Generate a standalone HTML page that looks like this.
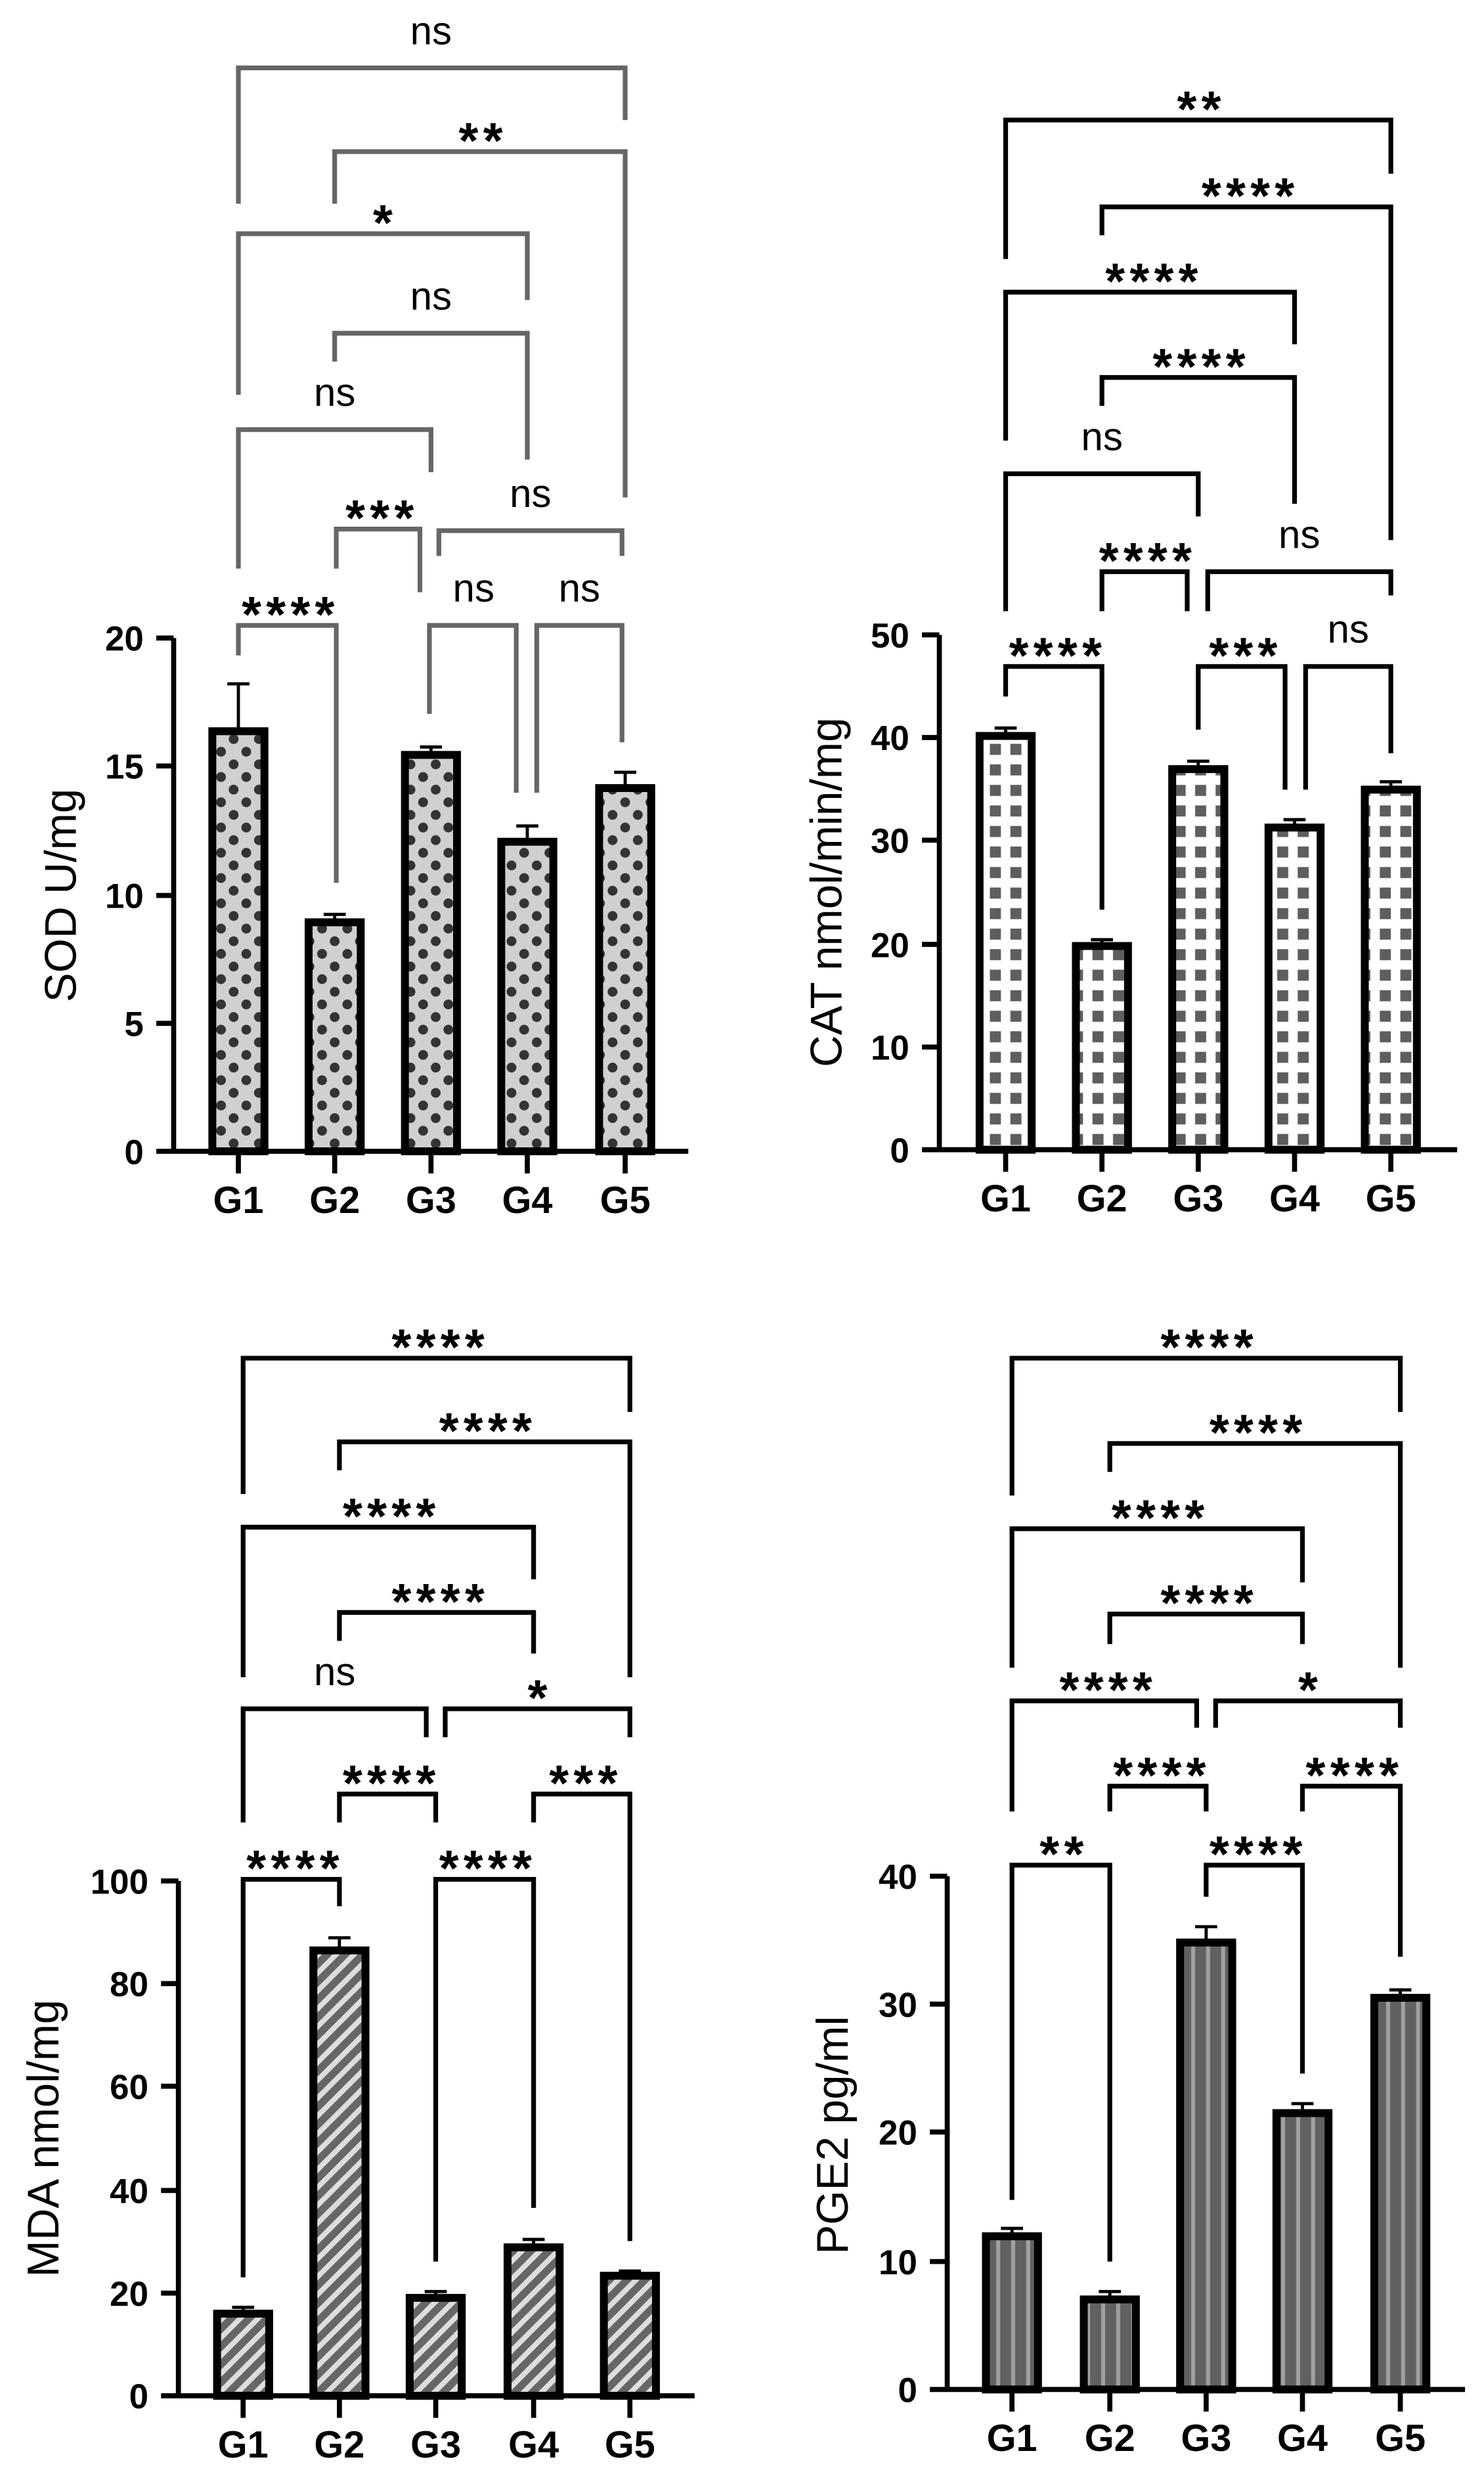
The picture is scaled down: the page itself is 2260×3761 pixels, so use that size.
<!DOCTYPE html>
<html><head><meta charset="utf-8"><style>
html,body{margin:0;padding:0;background:#fff;}
svg{display:block;}
text{font-family:"Liberation Sans",Arial,sans-serif;}
.tk{font-size:22px;font-weight:bold;text-anchor:end;}
.gl{font-size:24px;font-weight:bold;text-anchor:middle;}
.yl{font-size:28px;text-anchor:middle;}
.st{font-size:32px;font-weight:bold;text-anchor:middle;letter-spacing:3px;}
.ns{font-size:25px;text-anchor:middle;}
.bk{fill:none;stroke:#000;stroke-width:3;}
.bg{fill:none;stroke:#666;stroke-width:3;}
.ax{stroke:#000;stroke-width:3.2;fill:none;}
.eb{stroke:#000;stroke-width:2;fill:none;}
</style></head><body>
<svg width="2260" height="3761" viewBox="0 0 940 1564" preserveAspectRatio="none" xmlns="http://www.w3.org/2000/svg">
<defs>
<pattern id="pd" width="16" height="16" patternUnits="userSpaceOnUse">
<rect width="16" height="16" fill="#d0d0d0"/>
<circle cx="4" cy="4" r="3.1" fill="#333"/><circle cx="12" cy="12" r="3.1" fill="#333"/>
</pattern>
<pattern id="pc" width="13" height="13" patternUnits="userSpaceOnUse">
<rect width="13" height="13" fill="#fff"/>
<rect x="3" y="3" width="7" height="7" fill="#5e5e5e"/>
</pattern>
<pattern id="ps" width="8" height="8" patternUnits="userSpaceOnUse" patternTransform="rotate(45)">
<rect width="8" height="8" fill="#666"/>
<rect width="3.3" height="8" fill="#ddd"/>
</pattern>
<pattern id="pv" width="9.5" height="10" patternUnits="userSpaceOnUse">
<rect width="9.5" height="10" fill="#616161"/>
<rect x="4" width="2.5" height="10" fill="#a0a0a0"/>
</pattern>
</defs>

<!-- ===== SOD ===== -->
<g>
<path class="bg" d="M151 129 V43 H396 V76"/><text class="ns" x="273" y="28">ns</text>
<path class="bg" d="M212 129 V96 H396 V315"/><text class="st" x="306" y="100">**</text>
<path class="bg" d="M151 250 V148 H334 V190"/><text class="st" x="244" y="152">*</text>
<path class="bg" d="M212 229 V211 H334 V291"/><text class="ns" x="273" y="196">ns</text>
<path class="bg" d="M151 360 V272 H273 V299"/><text class="ns" x="212" y="257">ns</text>
<path class="bg" d="M213 360 V335 H266 V375"/><text class="st" x="242" y="339">***</text>
<path class="bg" d="M278 352 V336 H394 V352"/><text class="ns" x="336" y="321">ns</text>
<path class="bg" d="M151 415 V396 H213 V559"/><text class="st" x="184" y="400">****</text>
<path class="bg" d="M272 452 V396 H327 V502"/><text class="ns" x="300" y="381">ns</text>
<path class="bg" d="M340 502 V396 H394 V470"/><text class="ns" x="367" y="381">ns</text>

<path class="eb" d="M151 463 V433 M144 433 H158"/>
<path class="eb" d="M212 584 V579 M205 579 H219"/>
<path class="eb" d="M273 478 V473 M266 473 H280"/>
<path class="eb" d="M334 533 V523 M327 523 H341"/>
<path class="eb" d="M396 499 V489 M389 489 H403"/>
<rect x="134.5" y="463" width="33" height="266" fill="url(#pd)" stroke="#000" stroke-width="5"/>
<rect x="195.5" y="584" width="33" height="145" fill="url(#pd)" stroke="#000" stroke-width="5"/>
<rect x="256.5" y="478" width="33" height="251" fill="url(#pd)" stroke="#000" stroke-width="5"/>
<rect x="317.5" y="533" width="33" height="196" fill="url(#pd)" stroke="#000" stroke-width="5"/>
<rect x="379.5" y="499" width="33" height="230" fill="url(#pd)" stroke="#000" stroke-width="5"/>

<path class="ax" d="M110 404 V729 M99 729 H436 M99 404 H110 M99 485 H110 M99 567 H110 M99 648 H110 M151 729 V743 M212 729 V743 M273 729 V743 M334 729 V743 M396 729 V743"/>
<text class="tk" x="91" y="412">20</text><text class="tk" x="91" y="493">15</text><text class="tk" x="91" y="575">10</text><text class="tk" x="91" y="656">5</text><text class="tk" x="91" y="737">0</text>
<text class="gl" x="151" y="768">G1</text><text class="gl" x="212" y="768">G2</text><text class="gl" x="273" y="768">G3</text><text class="gl" x="334" y="768">G4</text><text class="gl" x="396" y="768">G5</text>
<text class="yl" transform="translate(38,567) rotate(-90)" dy="10">SOD U/mg</text>
</g>

<!-- ===== CAT ===== -->
<g>
<path class="bk" d="M637 164 V76 H881 V110"/><text class="st" x="761" y="80">**</text>
<path class="bk" d="M698 149 V131 H881 V342"/><text class="st" x="792" y="135">****</text>
<path class="bk" d="M637 279 V185 H820 V218"/><text class="st" x="731" y="189">****</text>
<path class="bk" d="M698 257 V239 H820 V319"/><text class="st" x="761" y="243">****</text>
<path class="bk" d="M637 387 V300 H759 V327"/><text class="ns" x="698" y="285">ns</text>
<path class="bk" d="M698 387 V362 H752 V387"/><text class="st" x="727" y="366">****</text>
<path class="bk" d="M765 387 V362 H881 V377"/><text class="ns" x="823" y="347">ns</text>
<path class="bk" d="M637 441 V422 H698 V576"/><text class="st" x="670" y="426">****</text>
<path class="bk" d="M759 462 V422 H814 V500"/><text class="st" x="789" y="426">***</text>
<path class="bk" d="M827 500 V422 H881 V477"/><text class="ns" x="854" y="407">ns</text>

<path class="eb" d="M637 466 V461 M630 461 H644"/>
<path class="eb" d="M698 599 V595 M691 595 H705"/>
<path class="eb" d="M759 487 V482 M752 482 H766"/>
<path class="eb" d="M820 524 V519 M813 519 H827"/>
<path class="eb" d="M881 500 V495 M874 495 H888"/>
<rect x="620.5" y="466" width="33" height="262" fill="url(#pc)" stroke="#000" stroke-width="5"/>
<rect x="681.5" y="599" width="33" height="129" fill="url(#pc)" stroke="#000" stroke-width="5"/>
<rect x="742.5" y="487" width="33" height="241" fill="url(#pc)" stroke="#000" stroke-width="5"/>
<rect x="803.5" y="524" width="33" height="204" fill="url(#pc)" stroke="#000" stroke-width="5"/>
<rect x="864.5" y="500" width="33" height="228" fill="url(#pc)" stroke="#000" stroke-width="5"/>

<path class="ax" d="M595 402 V728 M584 728 H923 M584 402 H595 M584 467 H595 M584 532 H595 M584 598 H595 M584 663 H595 M637 728 V742 M698 728 V742 M759 728 V742 M820 728 V742 M881 728 V742"/>
<text class="tk" x="576" y="410">50</text><text class="tk" x="576" y="475">40</text><text class="tk" x="576" y="540">30</text><text class="tk" x="576" y="606">20</text><text class="tk" x="576" y="671">10</text><text class="tk" x="576" y="736">0</text>
<text class="gl" x="637" y="767">G1</text><text class="gl" x="698" y="767">G2</text><text class="gl" x="759" y="767">G3</text><text class="gl" x="820" y="767">G4</text><text class="gl" x="881" y="767">G5</text>
<text class="yl" transform="translate(523,565) rotate(-90)" dy="10">CAT nmol/min/mg</text>
</g>

<!-- ===== MDA ===== -->
<g>
<path class="bk" d="M154 946 V860 H399 V894"/><text class="st" x="279" y="864">****</text>
<path class="bk" d="M215 931 V913 H399 V1062"/><text class="st" x="309" y="917">****</text>
<path class="bk" d="M154 1062 V967 H338 V1000"/><text class="st" x="248" y="971">****</text>
<path class="bk" d="M215 1039 V1021 H338 V1047"/><text class="st" x="279" y="1025">****</text>
<path class="bk" d="M154 1154 V1082 H270 V1100"/><text class="ns" x="212" y="1067">ns</text>
<path class="bk" d="M282 1100 V1082 H399 V1100"/><text class="st" x="342" y="1086">*</text>
<path class="bk" d="M215 1154 V1136 H276 V1154"/><text class="st" x="248" y="1140">****</text>
<path class="bk" d="M338 1154 V1136 H399 V1419"/><text class="st" x="371" y="1140">***</text>
<path class="bk" d="M154 1442 V1190 H215 V1207"/><text class="st" x="187" y="1194">****</text>
<path class="bk" d="M276 1432 V1190 H338 V1398"/><text class="st" x="309" y="1194">****</text>

<path class="eb" d="M154 1465 V1461 M147 1461 H161"/>
<path class="eb" d="M215 1235 V1227 M208 1227 H222"/>
<path class="eb" d="M276 1455 V1451 M269 1451 H283"/>
<path class="eb" d="M338 1423 V1418 M331 1418 H345"/>
<path class="eb" d="M399 1441 V1438 M392 1438 H406"/>
<rect x="137.5" y="1465" width="33" height="52" fill="url(#ps)" stroke="#000" stroke-width="5"/>
<rect x="198.5" y="1235" width="33" height="282" fill="url(#ps)" stroke="#000" stroke-width="5"/>
<rect x="259.5" y="1455" width="33" height="62" fill="url(#ps)" stroke="#000" stroke-width="5"/>
<rect x="321.5" y="1423" width="33" height="94" fill="url(#ps)" stroke="#000" stroke-width="5"/>
<rect x="382.5" y="1441" width="33" height="76" fill="url(#ps)" stroke="#000" stroke-width="5"/>

<path class="ax" d="M113 1191 V1517 M102 1517 H440 M102 1191 H113 M102 1256 H113 M102 1321 H113 M102 1387 H113 M102 1452 H113 M154 1517 V1531 M215 1517 V1531 M276 1517 V1531 M338 1517 V1531 M399 1517 V1531"/>
<text class="tk" x="94" y="1199">100</text><text class="tk" x="94" y="1264">80</text><text class="tk" x="94" y="1329">60</text><text class="tk" x="94" y="1395">40</text><text class="tk" x="94" y="1460">20</text><text class="tk" x="94" y="1525">0</text>
<text class="gl" x="154" y="1556">G1</text><text class="gl" x="215" y="1556">G2</text><text class="gl" x="276" y="1556">G3</text><text class="gl" x="338" y="1556">G4</text><text class="gl" x="399" y="1556">G5</text>
<text class="yl" transform="translate(27,1354) rotate(-90)" dy="10">MDA nmol/mg</text>
</g>

<!-- ===== PGE2 ===== -->
<g>
<path class="bk" d="M641 947 V860 H887 V894"/><text class="st" x="766" y="864">****</text>
<path class="bk" d="M703 932 V914 H887 V1056"/><text class="st" x="797" y="918">****</text>
<path class="bk" d="M641 1056 V968 H825 V1002"/><text class="st" x="735" y="972">****</text>
<path class="bk" d="M703 1041 V1022 H825 V1041"/><text class="st" x="766" y="1026">****</text>
<path class="bk" d="M641 1147 V1077 H758 V1094"/><text class="st" x="702" y="1081">****</text>
<path class="bk" d="M770 1094 V1077 H887 V1094"/><text class="st" x="830" y="1081">*</text>
<path class="bk" d="M703 1147 V1131 H764 V1147"/><text class="st" x="736" y="1135">****</text>
<path class="bk" d="M825 1147 V1131 H887 V1239"/><text class="st" x="858" y="1135">****</text>
<path class="bk" d="M641 1393 V1181 H703 V1432"/><text class="st" x="674" y="1185">**</text>
<path class="bk" d="M764 1201 V1181 H825 V1313"/><text class="st" x="797" y="1185">****</text>

<path class="eb" d="M641 1416 V1411 M634 1411 H648"/>
<path class="eb" d="M703 1456 V1451 M696 1451 H710"/>
<path class="eb" d="M764 1230 V1220 M757 1220 H771"/>
<path class="eb" d="M825 1338 V1332 M818 1332 H832"/>
<path class="eb" d="M887 1265 V1260 M880 1260 H894"/>
<rect x="624.5" y="1416" width="33" height="97" fill="url(#pv)" stroke="#000" stroke-width="5"/>
<rect x="686.5" y="1456" width="33" height="57" fill="url(#pv)" stroke="#000" stroke-width="5"/>
<rect x="747.5" y="1230" width="33" height="283" fill="url(#pv)" stroke="#000" stroke-width="5"/>
<rect x="808.5" y="1338" width="33" height="175" fill="url(#pv)" stroke="#000" stroke-width="5"/>
<rect x="870.5" y="1265" width="33" height="248" fill="url(#pv)" stroke="#000" stroke-width="5"/>

<path class="ax" d="M600 1188 V1513 M589 1513 H928 M589 1188 H600 M589 1269 H600 M589 1350 H600 M589 1432 H600 M641 1513 V1527 M703 1513 V1527 M764 1513 V1527 M825 1513 V1527 M887 1513 V1527"/>
<text class="tk" x="581" y="1196">40</text><text class="tk" x="581" y="1277">30</text><text class="tk" x="581" y="1358">20</text><text class="tk" x="581" y="1440">10</text><text class="tk" x="581" y="1521">0</text>
<text class="gl" x="641" y="1552">G1</text><text class="gl" x="703" y="1552">G2</text><text class="gl" x="764" y="1552">G3</text><text class="gl" x="825" y="1552">G4</text><text class="gl" x="887" y="1552">G5</text>
<text class="yl" transform="translate(527,1352) rotate(-90)" dy="10">PGE2 pg/ml</text>
</g>
</svg>
</body></html>
